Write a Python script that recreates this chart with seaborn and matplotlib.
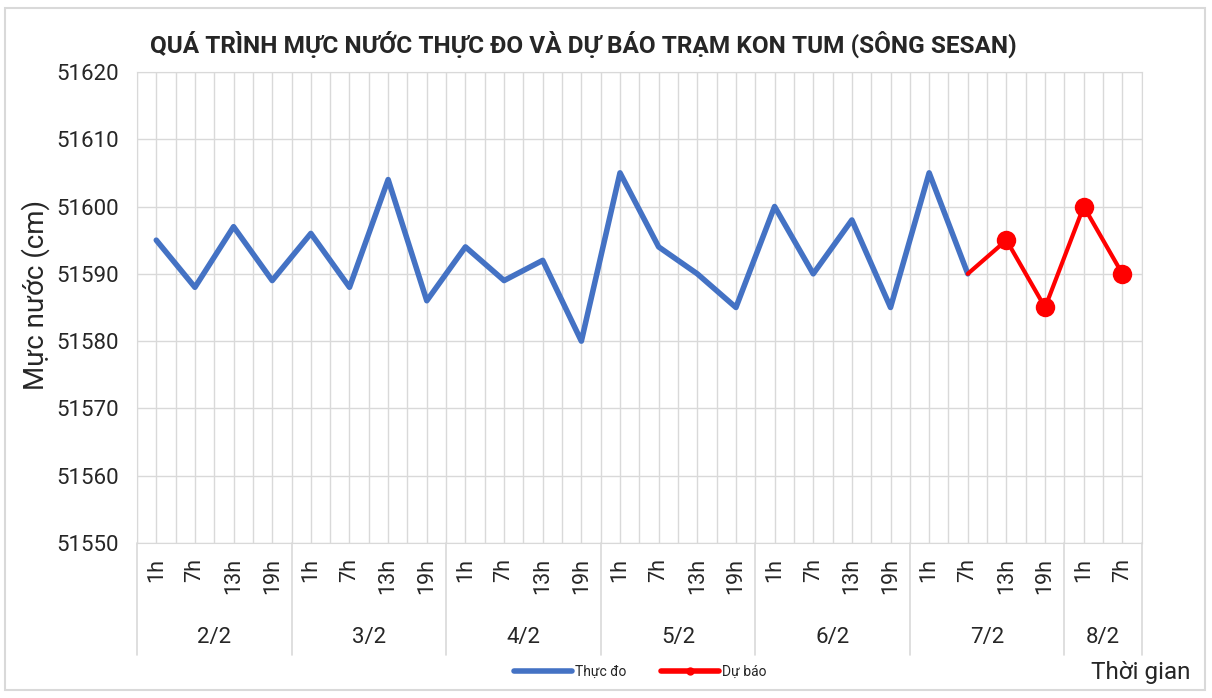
import numpy as np
import pandas as pd
import seaborn as sns
import matplotlib.pyplot as plt
from matplotlib.lines import Line2D
from matplotlib.patches import Rectangle
import matplotlib.transforms as mtransforms

days = ["2/2", "3/2", "4/2", "5/2", "6/2", "7/2", "8/2"]
hours_per_day = [4, 4, 4, 4, 4, 4, 2]
hours = ["1h", "7h", "13h", "19h"]

# observed water level (cm), 2/2 1h -> 7/2 7h
observed = [51595, 51588, 51597, 51589,
            51596, 51588, 51604, 51586,
            51594, 51589, 51592, 51580,
            51605, 51594, 51590, 51585,
            51600, 51590, 51598, 51585,
            51605, 51590]
# forecast, 7/2 7h -> 8/2 7h
forecast = [51590, 51595, 51585, 51600, 51590]

hour_labels = []
for n in hours_per_day:
    hour_labels += hours[:n]
n_pts = len(hour_labels)

obs_df = pd.DataFrame({"x": range(len(observed)), "y": observed})
fc_start = len(observed) - 1
fc_df = pd.DataFrame({"x": range(fc_start, fc_start + len(forecast)), "y": forecast})

sns.set_style("white")
plt.rcParams["font.family"] = ["Roboto", "DejaVu Sans"]

blue = "#4472C4"
red = "#FF0000"
grid_c = "#d9d9d9"

fig = plt.figure(figsize=(12.12, 6.98), dpi=100)
ax = fig.add_axes([0.113, 0.222, 0.829, 0.675])

sns.lineplot(data=obs_df, x="x", y="y", ax=ax, color=blue, lw=4)
sns.lineplot(data=fc_df, x="x", y="y", ax=ax, color=red, lw=3,
             marker="o", markersize=14, markeredgewidth=0,
             markevery=list(range(1, len(forecast))))

ax.set_xlim(-0.5, n_pts - 0.5)
ax.set_ylim(51550, 51620)
ax.set_yticks(np.arange(51550, 51621, 10))
ax.set_xticks(range(n_pts))
ax.set_xticklabels(hour_labels, rotation=90, va="top", fontsize=15.5)
ax.set_xticks(np.arange(-0.5, n_pts, 1), minor=True)
ax.tick_params(axis="y", labelsize=16, pad=13, length=0)
ax.tick_params(axis="x", which="both", pad=11, length=0)
ax.grid(True, which="both", color=grid_c, lw=1)
ax.set_axisbelow(True)
for s in ax.spines.values():
    s.set_color(grid_c)
ax.set_xlabel("")
ax.set_ylabel("")

# day group separators and labels
trans = mtransforms.blended_transform_factory(ax.transData, ax.transAxes)
bounds = [-0.5]
for n in hours_per_day:
    bounds.append(bounds[-1] + n)
for b in bounds:
    ax.plot([b, b], [0, -0.238], transform=trans, color=grid_c, lw=1.2, clip_on=False)
for i, d in enumerate(days):
    ax.text((bounds[i] + bounds[i + 1]) / 2, -0.2, d, transform=trans,
            ha="center", va="center", fontsize=16)

fig.text(0.124, 0.936, "QUÁ TRÌNH MỰC NƯỚC THỰC ĐO VÀ DỰ BÁO TRẠM KON TUM (SÔNG SESAN)",
         ha="left", va="center", fontsize=17.6, fontweight="bold")
fig.text(0.029, 0.577, "Mực nước (cm)", rotation=90, ha="center", va="center", fontsize=20)
fig.text(0.982, 0.036, "Thời gian", ha="right", va="center", fontsize=17.5)

handles = [Line2D([], [], color=blue, lw=4),
           Line2D([], [], color=red, lw=4, marker="o", markersize=5)]
fig.legend(handles, ["Thực đo", "Dự báo"], loc="center", bbox_to_anchor=(0.528, 0.037),
           ncol=2, frameon=False, fontsize=10, handlelength=4.2, columnspacing=2.5,
           handletextpad=0.2)

fig.patches.append(Rectangle((0.004, 0.011), 0.99, 0.978, transform=fig.transFigure,
                             fill=False, ec=grid_c, lw=1.5))

fig.savefig("out.png", dpi=100)
